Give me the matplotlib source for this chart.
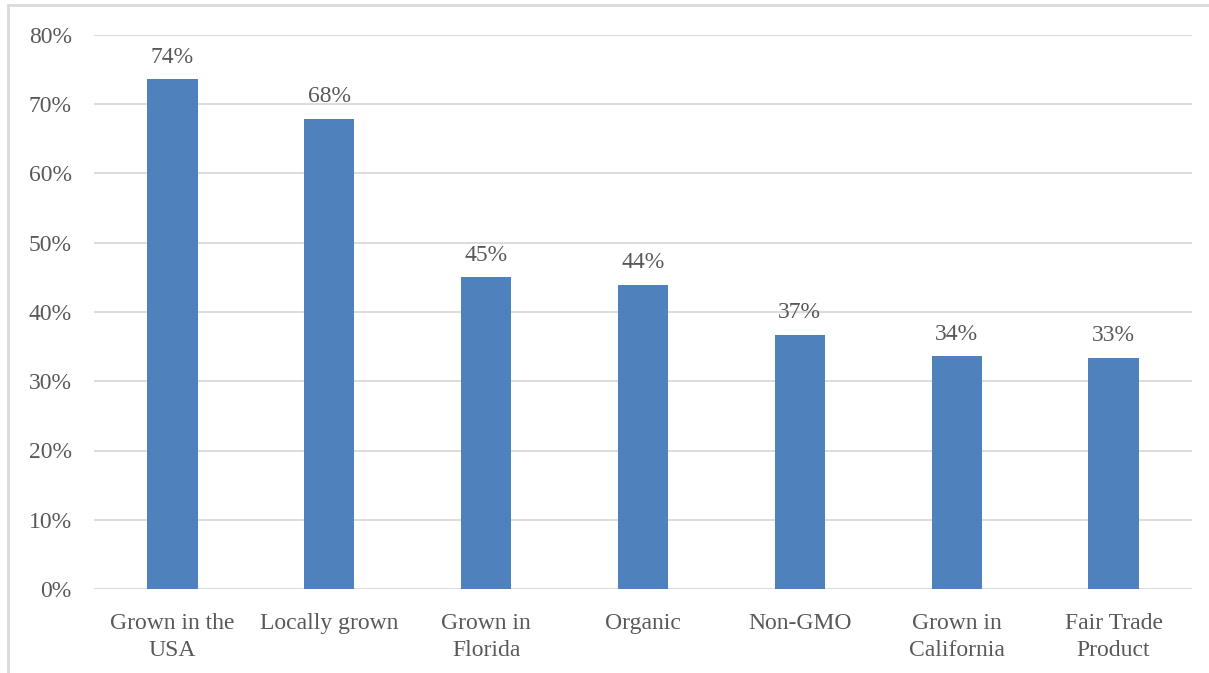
import matplotlib.pyplot as plt
from matplotlib.patches import Rectangle
from matplotlib.ticker import FuncFormatter

categories = ["Grown in the\nUSA", "Locally grown", "Grown in\nFlorida", "Organic",
              "Non-GMO", "Grown in\nCalifornia", "Fair Trade\nProduct"]
values = [73.6, 67.9, 45.0, 43.9, 36.7, 33.6, 33.4]
labels = ["74%", "68%", "45%", "44%", "37%", "34%", "33%"]

BLUE = "#4F81BD"
TEXT = "#595959"
GRID = "#D9D9D9"

plt.rcParams["font.family"] = ["Liberation Serif", "DejaVu Serif"]

fig = plt.figure(figsize=(12.09, 6.73), dpi=100)
ax = fig.add_axes([94 / 1209, 1 - 589 / 673, (1192 - 94) / 1209, (589 - 35) / 673])

x = range(len(categories))
ax.bar(x, values, width=0.32, color=BLUE, zorder=3)
for xi, v, lab in zip(x, values, labels):
    ax.text(xi, v + 2.4, lab, ha="center", va="baseline", fontsize=17, color=TEXT)

ax.set_xlim(-0.5, len(categories) - 0.5)
ax.set_ylim(0, 80)
ax.set_yticks(range(0, 81, 10))
ax.yaxis.set_major_formatter(FuncFormatter(lambda v, p: f"{int(v)}%"))
ax.set_xticks(list(x))
ax.set_xticklabels(categories, fontsize=17, color=TEXT, linespacing=1.4)
ax.tick_params(axis="y", labelsize=17, labelcolor=TEXT, length=0, pad=16)
ax.tick_params(axis="x", length=0, pad=17)
ax.grid(axis="y", color=GRID, linewidth=1.3, zorder=0)
for s in ax.spines.values():
    s.set_visible(False)

# outer chart frame (left and top visible in the crop)
fig.patches.append(Rectangle((8 / 1209, -0.1), 1.2, 1 - 5 / 673 + 0.1, transform=fig.transFigure,
                             fill=False, edgecolor=GRID, linewidth=2))

fig.savefig("out.png", dpi=100)
